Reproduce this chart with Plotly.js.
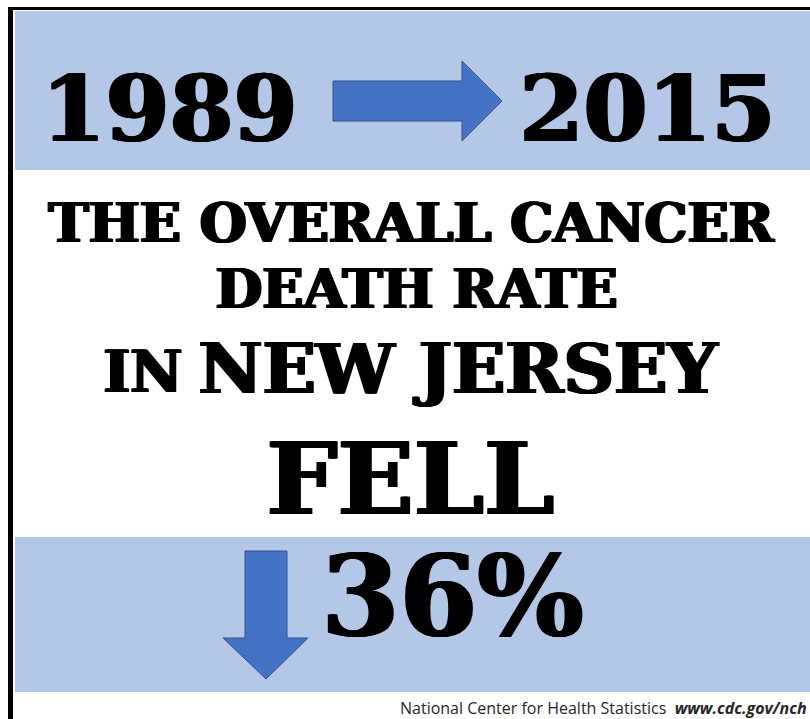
<!DOCTYPE html>
<html>
<head>
<meta charset="utf-8">
<script src="https://cdn.plot.ly/plotly-3.0.1.min.js"></script>
<style>html,body{margin:0;padding:0;background:#fff;}#chart{width:810px;height:719px;}</style>
</head>
<body>
<div id="chart"></div>
<script>
// ---- data ----
const years = [1989, 2015];
const percentDecline = [36];
const headlineLines = ["THE OVERALL CANCER", "DEATH RATE"];
const statePrefix = ["IN"];
const stateName = ["NEW JERSEY"];
const verb = ["FELL"];
const sourceText = ["National Center for Health Statistics", "www.cdc.gov/nch"];

// ---- styles ----
const band = "#B4C7E7";
const arrowFill = "#4472C4";
const arrowLine = "#2F528F";
const heavy = "DejaVu Serif";
const thicken = "1px 0 0 #000, -1px 0 0 #000, 2px 0 0 #000";

const shapes = [
  // blue bands
  {type:"rect", xref:"x", yref:"y", x0:15, x1:810, y0:11, y1:170, fillcolor:band, line:{width:0}, layer:"below"},
  {type:"rect", xref:"x", yref:"y", x0:15, x1:810, y0:537, y1:692, fillcolor:band, line:{width:0}, layer:"below"},
  // black frame
  {type:"rect", xref:"x", yref:"y", x0:8, x1:810, y0:7, y1:10, fillcolor:"#000", line:{width:0}},
  {type:"rect", xref:"x", yref:"y", x0:8, x1:13, y0:7, y1:719, fillcolor:"#000", line:{width:0}},
  // right arrow
  {type:"path", xref:"x", yref:"y", path:"M333,81 L462,81 L462,61 L502,101 L462,141 L462,121 L333,121 Z",
   fillcolor:arrowFill, line:{color:arrowLine, width:1}},
  // down arrow
  {type:"path", xref:"x", yref:"y", path:"M245,551 L287,551 L287,638 L308,638 L266,679 L223,638 L245,638 Z",
   fillcolor:arrowFill, line:{color:arrowLine, width:1}}
];

function txt(text, x, y, size) {
  return {
    text: text, x: x, y: y, xref: "x", yref: "y", showarrow: false,
    xanchor: "center", yanchor: "middle",
    font: {family: heavy, size: size, color: "#000", weight: "bold", shadow: thicken}
  };
}

const annotations = [
  txt(String(years[0]), 169, 109, 92),
  txt(String(years[1]), 647, 109, 92),
  txt(headlineLines[0], 411, 223, 54),
  txt(headlineLines[1], 416, 289, 54),
  txt(statePrefix[0], 142, 371, 57),
  txt(stateName[0], 458, 368, 70),
  txt(verb[0], 410, 479, 100),
  txt(percentDecline[0] + "%", 452, 595, 112),
  {text: sourceText[0] + "  <b><i>" + sourceText[1] + "</i></b>", x: 809, y: 708, xref:"x", yref:"y",
   showarrow:false, xanchor:"right", yanchor:"middle",
   font:{family:"Open Sans", size:16, color:"#262626"}}
];

const layout = {
  width: 810, height: 719,
  margin: {l:0, r:0, t:0, b:0},
  paper_bgcolor: "#fff", plot_bgcolor: "#fff",
  xaxis: {range:[0,810], visible:false, fixedrange:true},
  yaxis: {range:[719,0], visible:false, fixedrange:true},
  shapes: shapes,
  annotations: annotations,
  showlegend: false
};

Plotly.newPlot("chart", [{x:[], y:[], type:"scatter", mode:"markers", hoverinfo:"skip"}], layout, {displayModeBar:false, staticPlot:true});
</script>
</body>
</html>
